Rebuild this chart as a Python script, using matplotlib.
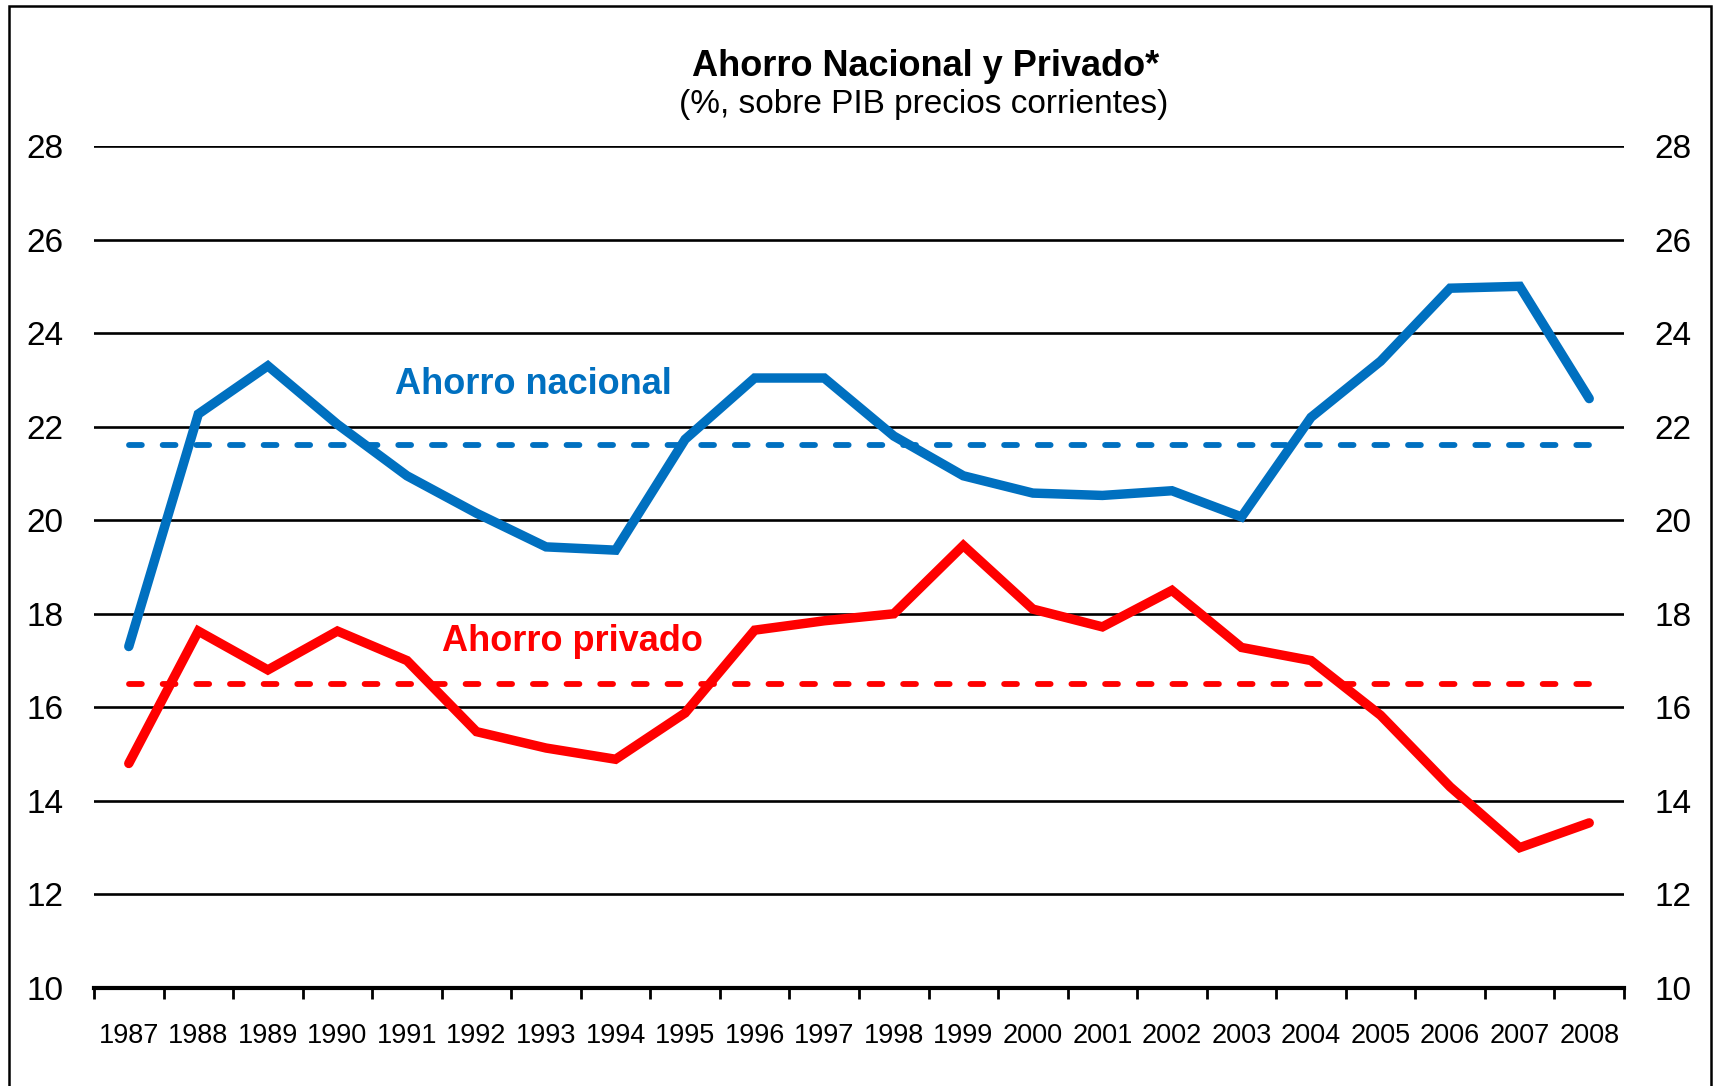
import matplotlib
matplotlib.use("Agg")
import matplotlib.pyplot as plt
import numpy as np

years = [str(y) for y in range(1987, 2009)]
ahorro_nacional = [17.3, 22.27, 23.3, 22.05, 20.95, 20.15, 19.43, 19.36, 21.73, 23.04, 23.04,
                   21.8, 20.95, 20.58, 20.53, 20.63, 20.07, 22.2, 23.4, 24.96, 25.0, 22.6]
ahorro_privado = [14.8, 17.63, 16.8, 17.63, 17.0, 15.48, 15.13, 14.89, 15.88, 17.65, 17.85,
                  18.0, 19.46, 18.1, 17.72, 18.5, 17.28, 17.0, 15.83, 14.3, 13.0, 13.53]
media_nacional = 21.6
media_privado = 16.5
yticks = [10, 12, 14, 16, 18, 20, 22, 24, 26, 28]

BLUE = "#0070C0"
RED = "#FF0000"

plt.rcParams['font.family'] = ['Liberation Sans', 'DejaVu Sans']

fig = plt.figure(figsize=(17.18, 10.86), dpi=100)
ax = fig.add_axes([94/1718, 1-988/1086, (1624-94)/1718, (988-146)/1086])

x = np.arange(len(years))
for yv in yticks[1:]:
    ax.axhline(yv, color='black', lw=1.9, zorder=1)

ax.plot(x, ahorro_nacional, color=BLUE, lw=6.8, solid_capstyle='round', solid_joinstyle='miter', zorder=3)
ax.plot(x, ahorro_privado, color=RED, lw=6.8, solid_capstyle='round', solid_joinstyle='miter', zorder=3)
ax.plot([x[0], x[-1]], [media_nacional]*2, color=BLUE, lw=4.2, ls=(0, (2.2, 3.57)), dash_capstyle='round', zorder=2)
ax.plot([x[0], x[-1]], [media_privado]*2, color=RED, lw=4.2, ls=(0, (2.2, 3.57)), dash_capstyle='round', zorder=2)

ax.text(5.82, 22.9, "Ahorro nacional", color=BLUE, fontsize=26, fontweight='bold', ha='center', va='center')
ax.text(6.38, 17.4, "Ahorro privado", color=RED, fontsize=26, fontweight='bold', ha='center', va='center')

ax.set_xlim(-0.5, len(years) - 0.5)
ax.set_ylim(10, 28)
ax.set_yticks(yticks)
ax.set_yticklabels([str(v) for v in yticks])
ax.tick_params(axis='y', length=0, labelsize=24, labelleft=True, labelright=True, pad=22)

ax.set_xticks(x)
ax.set_xticklabels(years)
ax.set_xticks(np.arange(-0.5, len(years), 1.0), minor=True)
ax.tick_params(axis='x', which='major', length=0, labelsize=19.5, pad=25)
ax.tick_params(axis='x', which='minor', length=8, width=2, direction='out', color='black')

for s in ['left', 'right', 'top']:
    ax.spines[s].set_visible(False)
ax.spines['bottom'].set_linewidth(3)
ax.spines['bottom'].set_color('black')

fig.text(926/1718, 1-66/1086, "Ahorro Nacional y Privado*", ha='center', va='center', fontsize=26, fontweight='bold')
fig.text(924/1718, 1-104/1086, "(%, sobre PIB precios corrientes)", ha='center', va='center', fontsize=24)

border = plt.Rectangle((9/1718, -0.01), (1711-9)/1718, 1-6/1086+0.01, transform=fig.transFigure,
                       fill=False, edgecolor='black', lw=1.8)
fig.patches.append(border)

fig.savefig("out.png", dpi=100)
